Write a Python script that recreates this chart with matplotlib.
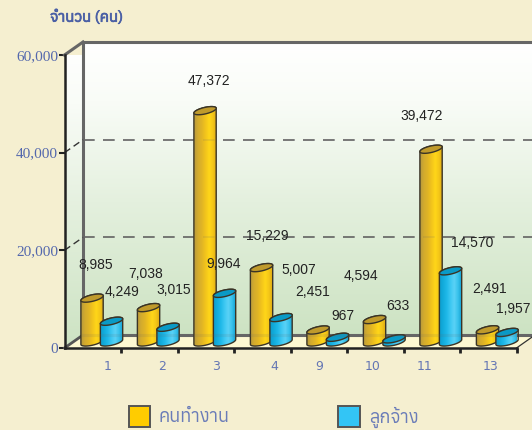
import matplotlib
matplotlib.use('Agg')
import matplotlib.pyplot as plt
import matplotlib.patheffects as pe
from matplotlib import font_manager
from matplotlib.ft2font import FT2Font
from matplotlib.patches import Polygon, Rectangle
from matplotlib.path import Path
import numpy as np

categories = ['1', '2', '3', '4', '9', '10', '11', '13']
workers = [8985, 7038, 47372, 15229, 2451, 4594, 39472, 2491]
employees = [4249, 3015, 9964, 5007, 967, 633, 14570, 1957]
y_ticks = [0, 20000, 40000, 60000]
y_labels = ['0', '20,000', '40,000', '60,000']
y_title = 'จำนวน (คน)'
series_names = ['คนทำงาน', 'ลูกจ้าง']

W, H = 532, 430
BG = '#f5efd0'
BLUE_TXT = '#5468ad'

# look for any installed font that really has thai letters
thai_names = []
for f in font_manager.findSystemFonts():
    try:
        cmap = FT2Font(f).get_charmap()
    except Exception:
        continue
    if 0x0E01 in cmap and 0x0E33 in cmap:
        thai_names.append(font_manager.get_font(f).family_name)
thai_names = sorted(set(thai_names))
THAI = thai_names[:1] + ['Noto Sans', 'DejaVu Sans']

# label spots, in pixels
worker_label_px = [(96, 265), (146, 274), (209, 81), (267, 236), (313, 292), (361, 276), (422, 116), (490, 289)]
employee_label_px = [(122, 292), (174, 290), (224, 264), (299, 270), (343, 316), (398, 306), (472, 243), (513, 309)]
cat_label_px = [108, 162, 216, 274, 319, 373, 425, 491]

fig = plt.figure(figsize=(W / 100, H / 100), dpi=100, facecolor=BG)
ax = fig.add_axes([64.5 / W, (H - 348) / H, 452 / W, 293 / H])
ax.patch.set_visible(False)

# depth of the 3d box in data units
dx = 18.5 / 56.5
dy = 13 / 293 * 60000
px_y = 60000 / 293


def ftext(x, y, s, **kw):
    return fig.text(x / W, (H - y) / H, s, ha=kw.pop('ha', 'center'), va=kw.pop('va', 'center'), **kw)


# back wall, side wall, floor
wall = np.linspace(0, 1, 128).reshape(-1, 1)
cmap = matplotlib.colors.LinearSegmentedColormap.from_list(
    'wall', [(0, '#cde3c3'), (0.45, '#e4f0de'), (0.8, '#f9fcf7'), (1, '#ffffff')])
ax.imshow(wall, origin='lower', aspect='auto', cmap=cmap, zorder=1,
          extent=(dx, 8 + dx, dy, 60000 + dy), clip_on=False)
side = ax.imshow(wall, origin='lower', aspect='auto', cmap=cmap, zorder=1,
                 extent=(0, dx, 0, 60000 + dy))
side.set_clip_path(Polygon([(0, 0), (dx, dy), (dx, 60000 + dy), (0, 60000)], transform=ax.transData))
ax.add_patch(Polygon([(0, 0), (dx, dy), (8 + dx, dy), (8, 0)], fc='#fdf8d2', ec='none', zorder=1.5, clip_on=False))

# box edges
edge = dict(color='#666666', lw=2.2, zorder=2, clip_on=False, solid_capstyle='projecting')
ax.plot([dx, dx], [dy, 60000 + dy], **edge)
ax.plot([dx, 8 + dx], [60000 + dy, 60000 + dy], **edge)
ax.plot([dx, 8 + dx], [dy, dy], **edge)
ax.plot([0, dx], [60000, 60000 + dy], **edge)
ax.plot([0, dx], [0, dy], color='#555555', lw=2, zorder=2, clip_on=False)
ax.plot([8, 8 + dx], [0, dy], color='#333333', lw=0.9, zorder=2, clip_on=False)

# grid, faint copy goes over the bars
for v in y_ticks[1:3]:
    ax.plot([dx, 8 + dx], [v + dy, v + dy], color='#666666', lw=1.2, dashes=(7, 5), zorder=2, clip_on=False)
    ax.plot([dx, 8 + dx], [v + dy, v + dy], color='#666666', lw=1.2, dashes=(7, 5), alpha=0.15, zorder=6, clip_on=False)
    ax.plot([0, dx], [v, v + dy], color='#333333', lw=1, dashes=(5, 3), zorder=2, clip_on=False)
ax.plot([dx, 8 + dx], [dy, dy], color='#666666', lw=2.2, alpha=0.12, zorder=6, clip_on=False)

gold_ramp = ['#b89a3c', '#d3ab2e', '#e0b426', '#f2c41c', '#ffd619', '#f4c718', '#dca714']
blue_ramp = ['#0e9ccb', '#12acdc', '#1fb8e8', '#3cc8f2', '#5ad2f6', '#38c2ec', '#149fd0']
base = 1230
half_h = 3.3 * px_y
tilt = 2.4 * px_y


def ellipse(cx, cy, a, t):
    return cx + a * np.cos(t), cy + half_h * np.sin(t) + tilt * np.cos(t)


def cylinder(left, width, value, ramp, top_color, z):
    a = width / 2
    cx = left + a
    top_y = base + value
    xb, yb = ellipse(cx, base, a, np.linspace(np.pi, 2 * np.pi, 40))
    xt, yt = ellipse(cx, top_y, a, np.linspace(0, np.pi, 40))
    verts = np.column_stack([np.r_[xb, xt], np.r_[yb, yt]])
    ax.add_patch(Polygon(verts, closed=True, fc='none', ec='#3a3426', lw=1, zorder=z + 0.2, clip_on=False))
    cm = matplotlib.colors.LinearSegmentedColormap.from_list('b', ramp)
    im = ax.imshow(np.linspace(0, 1, 64).reshape(1, -1), aspect='auto', cmap=cm, zorder=z,
                   extent=(left, left + width, base - half_h * 2, top_y + half_h * 2))
    im.set_clip_path(Path(verts), transform=ax.transData)
    xe, ye = ellipse(cx, top_y, a, np.linspace(0, 2 * np.pi, 80))
    ax.add_patch(Polygon(np.column_stack([xe, ye]), closed=True, fc=top_color, ec='#3a3426', lw=1,
                         zorder=z + 0.3, clip_on=False))


bar_w = 0.395
for i in range(len(categories)):
    cylinder(i + 0.29, bar_w, workers[i], gold_ramp, '#bf9a2c', 3)
    cylinder(i + 0.635, bar_w, employees[i], blue_ramp, '#0a9ac6', 4)

ax.set_xlim(0, 8)
ax.set_ylim(0, 60000)

# front axes
for s in ['top', 'right']:
    ax.spines[s].set_visible(False)
for s in ['left', 'bottom']:
    ax.spines[s].set_linewidth(1.8)
    ax.spines[s].set_color('#222222')
    ax.spines[s].set_zorder(7)
ax.set_xticks(range(1, 9))
ax.set_xticklabels([])
ax.tick_params(axis='x', length=3.5, width=2, color='#222222', direction='out')
ax.set_yticks(y_ticks)
ax.set_yticklabels(y_labels, family='Liberation Serif', fontsize=11, color=BLUE_TXT)
ax.tick_params(axis='y', length=4.5, width=1.5, color='#222222', pad=0)

for c, x in zip(categories, cat_label_px):
    ftext(x, 367, c, family='DejaVu Sans', fontsize=9, color='#6476b4')

for vals, spots in [(workers, worker_label_px), (employees, employee_label_px)]:
    for v, (x, y) in zip(vals, spots):
        ftext(x, y, f'{v:,}', family='Liberation Sans', fontsize=10, color='#222222', zorder=9)

# font has no bold cut, a thin stroke does it
title = ftext(50, 17, y_title, ha='left', family=THAI, fontsize=10.8, color='#4a5fa5')
title.set_path_effects([pe.withStroke(linewidth=0.5, foreground='#4a5fa5')])

# legend
for (x0, x1, col, name) in [(129, 150, '#ffcc00', series_names[0]), (338, 360, '#33c5f5', series_names[1])]:
    fig.add_artist(Rectangle((x0 / W, (H - 427) / H), (x1 - x0) / W, 21 / H, fc=col, ec='#555555', lw=1.4,
                             transform=fig.transFigure))
    ftext(x1 + 9, 417, name, ha='left', family=THAI, fontsize=13, color='#6a7cb8')

fig.savefig('out.png', dpi=100, facecolor=BG)
